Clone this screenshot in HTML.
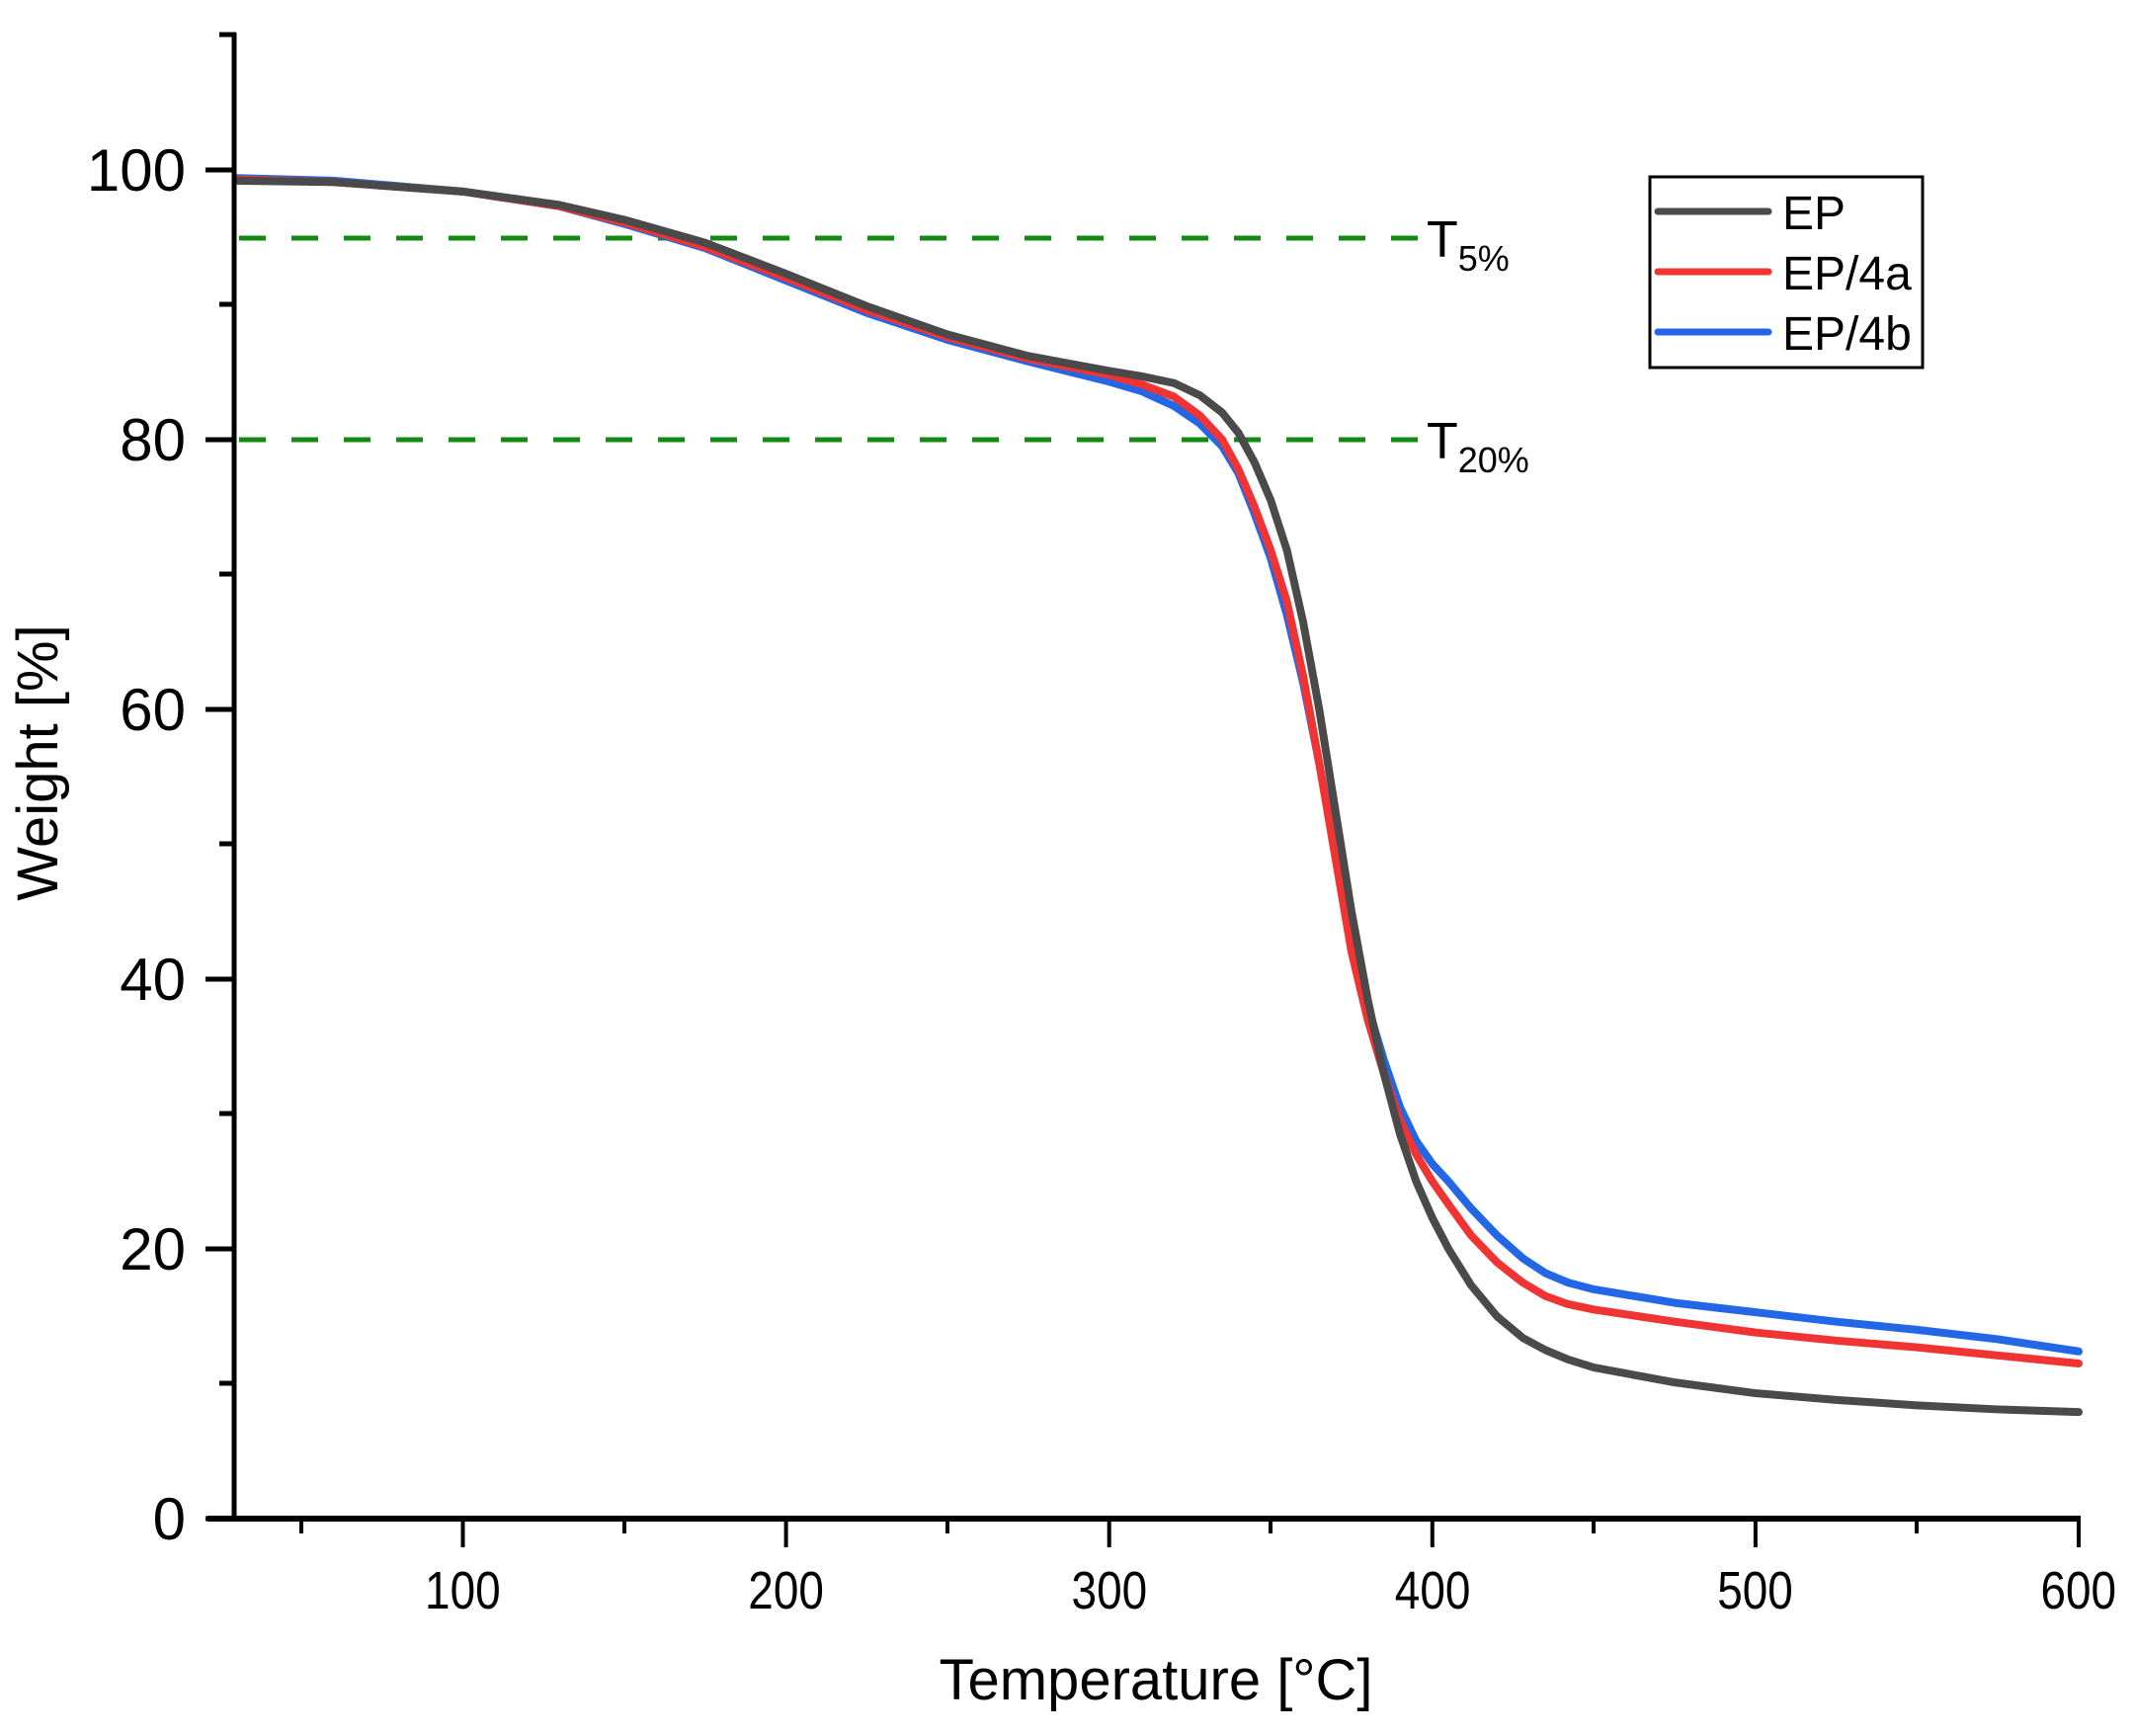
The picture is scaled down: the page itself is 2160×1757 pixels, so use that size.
<!DOCTYPE html>
<html><head><meta charset="utf-8"><style>
html,body{margin:0;padding:0;background:#fff;}
svg{display:block;}
text{font-family:"Liberation Sans",Arial,sans-serif;fill:#000;}
</style></head><body>
<svg width="2160" height="1757" viewBox="0 0 2160 1757" xmlns="http://www.w3.org/2000/svg">
<rect width="2160" height="1757" fill="#fff"/>
<line x1="242" y1="241" x2="1436" y2="241" stroke="#138a13" stroke-width="5" stroke-dasharray="27,26"/>
<line x1="242" y1="445" x2="1436" y2="445" stroke="#138a13" stroke-width="5" stroke-dasharray="27,26"/>
<text x="1444" y="260" font-size="52">T<tspan font-size="36" dy="14">5%</tspan></text>
<text x="1444" y="464" font-size="52">T<tspan font-size="36" dy="14">20%</tspan></text>
<g transform="matrix(3.271,0,0,-13.65,141.4,1537)" fill="none" stroke-linejoin="round" stroke-linecap="round">
<polyline vector-effect="non-scaling-stroke" stroke="#2367e6" stroke-width="8" points="30,99.4 60,99.2 100,98.4 130,97.3 150,96.0 175,94.2 200,91.8 225,89.4 250,87.4 275,85.8 300,84.3 310,83.6 320,82.5 328,81.2 335,79.5 340,77.5 345,74.5 350,71.2 355,67 360,62 365,56 370,49.5 375,43 380,38 385,34 390,30.5 395,28 400,26.3 405,25 412,23 420,21 428,19.3 435,18.2 442,17.5 450,17 475,16 500,15.3 525,14.6 550,14 575,13.3 600,12.4"/>
<polyline vector-effect="non-scaling-stroke" stroke="#f03434" stroke-width="8" points="30,99.3 60,99.1 100,98.4 130,97.3 150,96.1 175,94.3 200,92.0 225,89.6 250,87.6 275,86 300,84.8 310,84.1 320,83.2 328,81.8 335,80 340,77.8 345,75 350,71.8 355,68 360,62.5 365,56 370,49 375,42 380,37 385,33 390,29.5 395,27 400,25 405,23.3 412,21 420,19 428,17.5 435,16.5 442,15.9 450,15.5 475,14.6 500,13.8 525,13.2 550,12.7 575,12.1 600,11.5"/>
<polyline vector-effect="non-scaling-stroke" stroke="#4a4a4a" stroke-width="8" points="30,99.2 60,99.1 100,98.4 130,97.4 150,96.3 175,94.6 200,92.3 225,89.9 250,87.8 275,86.2 300,85.1 310,84.7 320,84.2 328,83.3 335,82 340,80.5 345,78.3 350,75.5 355,71.8 360,66.5 365,60 370,52.5 375,45 380,38.5 385,33 390,28.5 395,25 400,22.3 405,20 412,17.3 420,15 428,13.4 435,12.5 442,11.8 450,11.2 475,10.1 500,9.3 525,8.8 550,8.4 575,8.1 600,7.9"/>
</g>
<line x1="237" y1="33" x2="237" y2="1540" stroke="#000" stroke-width="5"/>
<line x1="210" y1="1537" x2="2106" y2="1537" stroke="#000" stroke-width="6"/>
<line x1="222" y1="35" x2="239" y2="35" stroke="#000" stroke-width="5"/>
<g stroke="#000" stroke-width="5">
<line x1="208" y1="1537" x2="237" y2="1537"/>
<line x1="208" y1="1264" x2="237" y2="1264"/>
<line x1="208" y1="991" x2="237" y2="991"/>
<line x1="208" y1="718" x2="237" y2="718"/>
<line x1="208" y1="445" x2="237" y2="445"/>
<line x1="208" y1="172" x2="237" y2="172"/>
<line x1="222" y1="1400" x2="237" y2="1400"/>
<line x1="222" y1="1127" x2="237" y2="1127"/>
<line x1="222" y1="854" x2="237" y2="854"/>
<line x1="222" y1="581" x2="237" y2="581"/>
<line x1="222" y1="308" x2="237" y2="308"/>
</g>
<g stroke="#000" stroke-width="4">
<line x1="468.5" y1="1537" x2="468.5" y2="1566"/>
<line x1="795.6" y1="1537" x2="795.6" y2="1566"/>
<line x1="1122.7" y1="1537" x2="1122.7" y2="1566"/>
<line x1="1449.8" y1="1537" x2="1449.8" y2="1566"/>
<line x1="1776.9" y1="1537" x2="1776.9" y2="1566"/>
<line x1="2104" y1="1537" x2="2104" y2="1566"/>
<line x1="305" y1="1537" x2="305" y2="1552"/>
<line x1="632" y1="1537" x2="632" y2="1552"/>
<line x1="959" y1="1537" x2="959" y2="1552"/>
<line x1="1286" y1="1537" x2="1286" y2="1552"/>
<line x1="1613" y1="1537" x2="1613" y2="1552"/>
<line x1="1940" y1="1537" x2="1940" y2="1552"/>
</g>
<g font-size="60" text-anchor="end">
<text x="188" y="1558">0</text>
<text x="188" y="1285">20</text>
<text x="188" y="1012">40</text>
<text x="188" y="739">60</text>
<text x="188" y="466">80</text>
<text x="188" y="193">100</text>
</g>
<g font-size="54" text-anchor="middle" transform="scale(0.85,1)">
<text x="551" y="1628">100</text>
<text x="936" y="1628">200</text>
<text x="1321" y="1628">300</text>
<text x="1706" y="1628">400</text>
<text x="2090" y="1628">500</text>
<text x="2475" y="1628">600</text>
</g>
<text x="1170" y="1720" font-size="58" text-anchor="middle">Temperature [°C]</text>
<text transform="translate(58,772) rotate(-90)" font-size="58" text-anchor="middle">Weight [%]</text>
<rect x="1670" y="179" width="276" height="193" fill="#fff" stroke="#000" stroke-width="3"/>
<line x1="1678" y1="214" x2="1790" y2="214" stroke="#4a4a4a" stroke-width="7" stroke-linecap="round"/>
<line x1="1678" y1="275" x2="1790" y2="275" stroke="#f03434" stroke-width="7" stroke-linecap="round"/>
<line x1="1678" y1="336" x2="1790" y2="336" stroke="#2367e6" stroke-width="7" stroke-linecap="round"/>
<g font-size="48">
<text x="1804" y="232">EP</text>
<text x="1804" y="293">EP/4a</text>
<text x="1804" y="354">EP/4b</text>
</g>
</svg>
</body></html>
